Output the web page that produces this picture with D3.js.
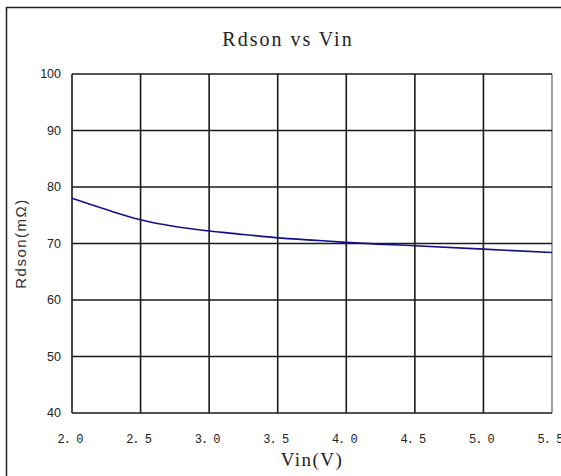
<!DOCTYPE html>
<html>
<head>
<meta charset="utf-8">
<script src="https://cdn.jsdelivr.net/npm/d3@7"></script>
<style>
  body { margin: 0; background: #fff; }
</style>
</head>
<body>
<svg id="chart"></svg>
<script>
// Rdson vs Vin readings
const vin = [2.0, 2.25, 2.5, 2.75, 3.0, 3.25, 3.5, 3.75, 4.0, 4.5, 5.0, 5.5]
const rdson = [78.0, 76.0, 74.2, 73.0, 72.2, 71.6, 71.0, 70.6, 70.2, 69.6, 69.0, 68.4]
const xTicks = [2.0, 2.5, 3.0, 3.5, 4.0, 4.5, 5.0, 5.5]
const yTicks = [40, 50, 60, 70, 80, 90, 100]

const width = 561, height = 476
const margin = { top: 74, right: 9, bottom: 63, left: 72 }

const svg = d3.select("#chart")
    .attr("width", width)
    .attr("height", height)
    .attr("viewBox", [0, 0, width, height])

// outer frame (cropped at right and bottom)
svg.append("path")
    .attr("fill", "none")
    .attr("stroke", "#222")
    .attr("stroke-width", 1.5)
    .attr("d", `M6.5,${height} V7.5 H${width}`)

const x = d3.scaleLinear()
    .domain([2.0, 5.5])
    .range([margin.left, width - margin.right])

const y = d3.scaleLinear()
    .domain([40, 100])
    .range([height - margin.bottom, margin.top])

const mono = "'Liberation Mono', 'DejaVu Sans Mono', monospace"
const serif = "'Liberation Serif', 'DejaVu Serif', serif"

// grid
svg.append("g")
    .attr("stroke", "#1a1a1a")
    .attr("stroke-width", 1.6)
  .selectAll("line")
  .data(xTicks)
  .join("line")
    .attr("x1", d => x(d))
    .attr("x2", d => x(d))
    .attr("y1", y(100))
    .attr("y2", y(40))
    .attr("stroke", d => d === 5.5 ? "#888" : null)

svg.append("g")
    .attr("stroke", "#1a1a1a")
    .attr("stroke-width", 1.6)
  .selectAll("line")
  .data(yTicks)
  .join("line")
    .attr("x1", x(2.0))
    .attr("x2", x(5.5))
    .attr("y1", d => y(d))
    .attr("y2", d => y(d))

// y tick labels
svg.append("g")
    .attr("font-family", "'Liberation Sans', Arial, sans-serif")
    .attr("font-size", 12.5)
    .attr("fill", "#222")
    .attr("text-anchor", "end")
  .selectAll("text")
  .data(yTicks)
  .join("text")
    .attr("x", margin.left - 11)
    .attr("y", d => y(d) + 4)
    .text(d => d)

// x tick labels
svg.append("g")
    .attr("font-family", mono)
    .attr("font-size", 12)
    .attr("fill", "#222")
    .attr("text-anchor", "middle")
  .selectAll("text")
  .data(xTicks)
  .join("text")
    .attr("x", d => x(d) - 2)
    .attr("y", height - margin.bottom + 30)
    .attr("letter-spacing", -1)
    .text(d => d.toFixed(1).replace(".", ". "))

// curve
const line = d3.line()
    .x((d, i) => x(vin[i]))
    .y(d => y(d))
    .curve(d3.curveMonotoneX)

svg.append("path")
    .attr("fill", "none")
    .attr("stroke", "#10108a")
    .attr("stroke-width", 1.6)
    .attr("d", line(rdson))

// titles
svg.append("text")
    .attr("x", 288)
    .attr("y", 46)
    .attr("text-anchor", "middle")
    .attr("font-family", serif)
    .attr("font-size", 20)
    .attr("letter-spacing", 2)
    .attr("fill", "#222")
    .text("Rdson vs Vin")

svg.append("text")
    .attr("x", 312)
    .attr("y", 466)
    .attr("text-anchor", "middle")
    .attr("font-family", serif)
    .attr("font-size", 19)
    .attr("letter-spacing", 1.5)
    .attr("fill", "#222")
    .text("Vin(V)")

svg.append("text")
    .attr("transform", `translate(26,${(y(40) + y(100)) / 2}) rotate(-90)`)
    .attr("text-anchor", "middle")
    .attr("font-family", "'Liberation Sans', Arial, sans-serif")
    .attr("font-size", 15)
    .attr("letter-spacing", 1.5)
    .attr("fill", "#333")
    .text("Rdson(mΩ)")
</script>
</body>
</html>
